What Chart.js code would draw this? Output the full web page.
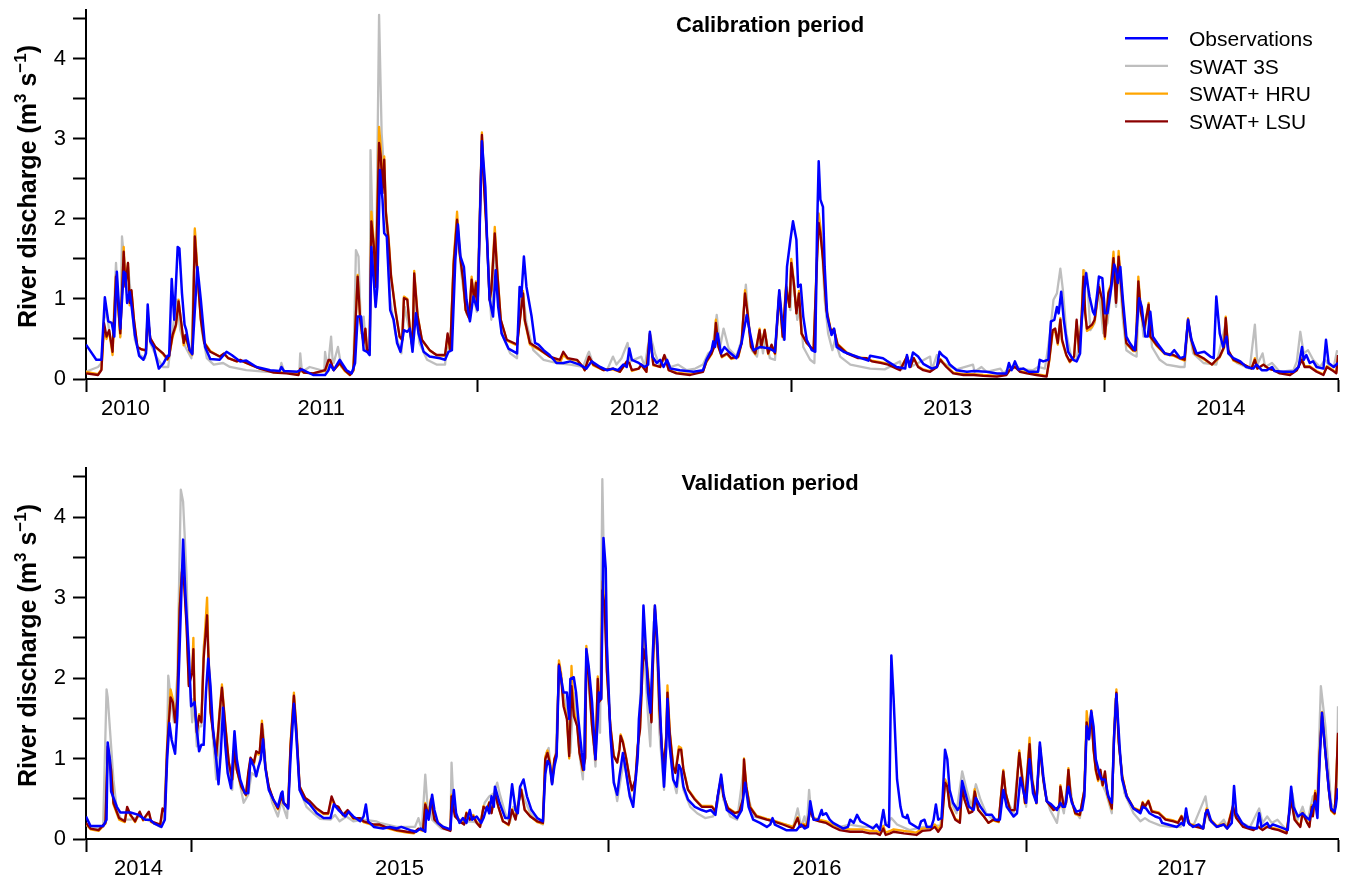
<!DOCTYPE html>
<html><head><meta charset="utf-8">
<script src="https://cdn.jsdelivr.net/npm/chart.js@4.4.1/dist/chart.umd.min.js"></script>
<style>
html,body{margin:0;padding:0;background:#fff;}
#wrap{position:relative;width:1346px;height:883px;overflow:hidden;}
canvas{position:absolute;left:0;}
</style></head><body>
<div id="wrap"><canvas id="cal" width="1346" height="441" style="top:0"></canvas><canvas id="val" width="1346" height="442" style="top:441px"></canvas></div>
<script>
// ---- tick labels / categories ----
const seriesNames = ['Observations','SWAT 3S','SWAT+ HRU','SWAT+ LSU'];
const calYears = ['2010','2011','2012','2013','2014'];
const calBounds = [0,92,457,823,1188,1461];   // day index of 1 Oct 2010, 1 Jan 2011 ... 30 Sep 2014
const valYears = ['2014','2015','2016','2017'];
const valBounds = [0,92,457,823,1096];        // day index of 1 Oct 2014, 1 Jan 2015 ... 30 Sep 2017
const yTickValues = [0,0.5,1,1.5,2,2.5,3,3.5,4,4.5];
const calTitle = 'Calibration period';
const valTitle = 'Validation period';

// ---- calibration period: [day, discharge m3/s] ----
const calObs = [[0,0.43],[12,0.24],[18,0.24],[22,1.02],[26,0.72],[30,0.70],[33,0.53],[36,1.34],[40,0.63],[44,1.34],[46,1.32],[48,0.95],[51,1.09],[53,0.93],[57,0.55],[62,0.29],[67,0.24],[70,0.32],[72,0.93],[75,0.47],[79,0.40],[85,0.13],[90,0.19],[95,0.29],[97,0.29],[100,1.25],[103,0.74],[107,1.65],[109,1.63],[112,1.07],[115,0.68],[117,0.61],[121,0.36],[124,0.31],[130,1.40],[134,0.99],[139,0.40],[145,0.25],[156,0.24],[164,0.34],[170,0.30],[180,0.22],[187,0.23],[199,0.15],[215,0.11],[226,0.10],[228,0.15],[231,0.10],[246,0.09],[252,0.12],[265,0.05],[279,0.05],[283,0.11],[285,0.18],[289,0.11],[296,0.24],[304,0.11],[310,0.07],[314,0.20],[317,0.78],[321,0.78],[324,0.36],[328,0.34],[331,0.30],[333,1.65],[336,1.20],[338,0.90],[340,1.15],[343,2.61],[346,2.24],[348,1.82],[351,1.78],[355,0.86],[359,0.74],[363,0.45],[367,0.34],[371,0.61],[375,0.59],[378,0.63],[381,0.34],[385,0.82],[388,0.57],[394,0.34],[401,0.28],[413,0.26],[419,0.24],[423,0.34],[427,0.36],[431,1.49],[434,1.93],[437,1.53],[441,1.40],[444,0.99],[448,0.72],[452,1.03],[457,0.86],[462,2.97],[466,2.40],[468,1.74],[471,0.99],[475,0.78],[478,1.36],[481,0.90],[485,0.57],[493,0.38],[503,0.32],[506,1.15],[508,1.03],[511,1.53],[514,1.15],[520,0.78],[524,0.45],[528,0.43],[534,0.36],[541,0.30],[549,0.20],[557,0.20],[565,0.22],[576,0.18],[584,0.13],[590,0.22],[600,0.15],[608,0.11],[615,0.13],[621,0.11],[627,0.18],[631,0.15],[634,0.38],[637,0.24],[645,0.20],[652,0.15],[656,0.18],[658,0.59],[661,0.28],[666,0.20],[670,0.24],[674,0.15],[678,0.24],[682,0.13],[693,0.11],[709,0.09],[720,0.11],[724,0.24],[730,0.36],[732,0.47],[734,0.40],[737,0.57],[741,0.32],[745,0.40],[750,0.34],[759,0.26],[765,0.45],[771,0.80],[775,0.57],[779,0.36],[787,0.40],[798,0.38],[804,0.34],[809,1.11],[812,0.76],[815,0.49],[818,1.40],[822,1.74],[825,1.97],[829,1.74],[831,1.15],[834,1.18],[837,0.78],[841,0.49],[847,0.36],[851,0.34],[853,1.82],[855,2.72],[857,2.24],[860,2.15],[862,1.40],[865,0.78],[870,0.55],[873,0.63],[876,0.40],[884,0.34],[894,0.30],[913,0.23],[915,0.29],[930,0.26],[934,0.23],[946,0.15],[956,0.13],[958,0.30],[961,0.15],[965,0.33],[971,0.28],[977,0.19],[987,0.13],[993,0.15],[996,0.34],[999,0.30],[1004,0.26],[1008,0.18],[1016,0.11],[1028,0.09],[1036,0.10],[1051,0.09],[1063,0.07],[1074,0.07],[1077,0.20],[1080,0.11],[1084,0.22],[1088,0.12],[1094,0.13],[1100,0.09],[1111,0.09],[1113,0.24],[1117,0.22],[1123,0.24],[1126,0.72],[1130,0.74],[1133,0.90],[1135,0.82],[1138,1.09],[1141,0.74],[1146,0.34],[1152,0.24],[1156,0.22],[1160,0.32],[1162,0.74],[1167,1.32],[1171,1.03],[1175,0.84],[1177,0.80],[1180,1.07],[1182,1.28],[1186,1.26],[1189,0.82],[1192,0.82],[1196,1.11],[1200,1.43],[1202,1.36],[1204,1.20],[1207,1.40],[1210,0.99],[1214,0.53],[1218,0.45],[1224,0.36],[1229,1.01],[1232,0.90],[1236,0.53],[1239,0.53],[1242,0.84],[1245,0.53],[1250,0.45],[1259,0.32],[1265,0.30],[1270,0.36],[1277,0.26],[1282,0.28],[1286,0.74],[1290,0.49],[1296,0.32],[1305,0.34],[1312,0.28],[1316,0.26],[1319,1.03],[1323,0.57],[1327,0.40],[1331,0.53],[1333,0.32],[1339,0.26],[1347,0.22],[1354,0.15],[1362,0.13],[1366,0.18],[1372,0.11],[1378,0.11],[1384,0.15],[1387,0.10],[1397,0.09],[1409,0.09],[1415,0.15],[1419,0.40],[1421,0.24],[1424,0.30],[1428,0.20],[1432,0.22],[1436,0.15],[1444,0.13],[1447,0.49],[1450,0.20],[1456,0.15],[1461,0.20]];

const calSw3 = [[0,0.09],[14,0.15],[18,0.20],[21,0.74],[24,0.84],[28,0.53],[31,0.40],[35,1.45],[40,0.53],[42,1.78],[46,1.32],[49,1.40],[53,0.99],[57,0.49],[63,0.30],[69,0.26],[72,0.86],[75,0.45],[82,0.28],[90,0.15],[96,0.15],[100,0.53],[106,0.99],[110,0.61],[116,0.40],[123,0.26],[127,1.86],[131,1.15],[135,0.61],[141,0.26],[149,0.18],[160,0.20],[168,0.15],[187,0.11],[211,0.09],[226,0.09],[228,0.20],[231,0.10],[249,0.09],[250,0.32],[252,0.09],[261,0.15],[278,0.10],[279,0.34],[282,0.11],[286,0.53],[288,0.20],[289,0.20],[294,0.40],[298,0.15],[308,0.05],[312,0.11],[315,1.61],[318,1.53],[321,0.57],[324,0.78],[327,0.36],[331,0.30],[332,2.86],[335,1.65],[338,0.90],[342,4.55],[345,3.07],[348,2.57],[351,1.82],[355,0.99],[361,0.57],[368,0.32],[372,0.90],[378,0.57],[381,0.38],[384,0.99],[389,0.45],[398,0.24],[409,0.18],[419,0.18],[421,0.40],[425,0.36],[429,1.49],[433,1.99],[438,1.32],[444,0.82],[448,0.74],[451,1.11],[456,0.84],[462,3.03],[466,2.24],[470,1.20],[473,0.74],[477,1.74],[481,0.99],[485,0.57],[495,0.32],[503,0.26],[506,0.99],[510,1.07],[514,0.70],[522,0.36],[534,0.24],[549,0.20],[565,0.18],[580,0.15],[586,0.32],[587,0.34],[592,0.18],[608,0.11],[615,0.28],[619,0.18],[625,0.26],[632,0.45],[635,0.22],[648,0.28],[652,0.15],[658,0.57],[664,0.32],[670,0.15],[676,0.28],[682,0.15],[691,0.18],[701,0.11],[711,0.13],[720,0.18],[726,0.32],[731,0.36],[736,0.80],[740,0.40],[744,0.63],[750,0.38],[759,0.28],[765,0.49],[770,1.18],[773,0.74],[777,0.36],[783,0.28],[787,0.57],[790,0.32],[793,0.53],[798,0.26],[804,0.24],[809,1.03],[814,0.49],[818,1.15],[822,0.86],[824,1.40],[827,1.07],[830,0.74],[833,0.90],[837,0.40],[845,0.24],[850,0.20],[853,1.40],[855,1.95],[859,1.61],[862,0.99],[866,0.57],[871,0.36],[874,0.49],[880,0.28],[892,0.18],[915,0.13],[932,0.12],[950,0.22],[952,0.12],[958,0.26],[962,0.15],[971,0.20],[985,0.28],[987,0.11],[993,0.30],[997,0.22],[1004,0.18],[1016,0.12],[1035,0.18],[1037,0.09],[1045,0.15],[1051,0.09],[1067,0.13],[1071,0.07],[1078,0.15],[1086,0.16],[1092,0.12],[1105,0.11],[1111,0.15],[1119,0.13],[1125,0.57],[1129,0.99],[1133,1.07],[1137,1.38],[1140,1.11],[1144,0.57],[1150,0.26],[1156,0.24],[1161,0.61],[1164,1.36],[1168,1.32],[1171,0.78],[1172,0.61],[1177,0.70],[1182,1.11],[1187,0.57],[1192,0.70],[1196,1.11],[1199,1.45],[1202,0.90],[1205,1.45],[1210,0.74],[1214,0.36],[1222,0.30],[1226,0.28],[1229,1.11],[1234,0.53],[1240,0.86],[1244,0.40],[1253,0.24],[1261,0.18],[1277,0.15],[1282,0.15],[1286,0.68],[1292,0.32],[1304,0.20],[1319,0.18],[1330,0.70],[1333,0.32],[1343,0.20],[1358,0.13],[1364,0.68],[1367,0.18],[1373,0.32],[1376,0.15],[1384,0.20],[1393,0.09],[1409,0.11],[1413,0.22],[1417,0.59],[1421,0.32],[1426,0.36],[1432,0.24],[1440,0.15],[1446,0.24],[1450,0.18],[1456,0.15],[1460,0.36]];

const calHru = [[0,0.09],[14,0.06],[18,0.12],[21,0.62],[24,0.50],[27,0.60],[31,0.30],[35,1.30],[40,0.52],[44,1.65],[46,1.18],[49,1.45],[51,0.92],[53,1.10],[56,0.72],[60,0.40],[65,0.37],[70,0.35],[72,0.80],[75,0.50],[81,0.40],[90,0.31],[95,0.24],[97,0.28],[101,0.52],[105,0.66],[108,0.99],[111,0.70],[114,0.42],[116,0.53],[121,0.34],[124,0.30],[127,1.88],[130,1.36],[134,0.76],[138,0.46],[145,0.35],[156,0.28],[161,0.31],[166,0.26],[176,0.22],[180,0.23],[187,0.20],[203,0.13],[219,0.09],[234,0.08],[248,0.06],[250,0.12],[254,0.08],[265,0.07],[279,0.10],[283,0.22],[285,0.23],[289,0.11],[296,0.19],[302,0.10],[308,0.05],[312,0.10],[317,1.30],[320,0.72],[324,0.43],[326,0.62],[328,0.34],[331,0.35],[333,2.09],[336,1.70],[338,1.18],[342,3.15],[344,2.90],[346,2.40],[348,2.78],[350,2.10],[353,1.78],[356,1.30],[361,0.88],[366,0.52],[369,0.48],[371,1.03],[375,1.00],[378,0.60],[381,0.40],[383,1.35],[387,0.80],[392,0.48],[401,0.36],[409,0.30],[419,0.29],[422,0.55],[425,0.35],[429,1.47],[433,2.09],[436,1.60],[440,1.26],[443,0.86],[447,0.76],[450,1.28],[453,1.00],[455,1.22],[457,0.88],[462,3.08],[464,2.55],[468,1.76],[471,0.98],[473,1.12],[477,1.90],[480,1.35],[484,0.74],[491,0.48],[503,0.42],[506,0.72],[510,1.10],[512,0.72],[518,0.43],[528,0.37],[541,0.28],[553,0.20],[557,0.30],[562,0.25],[573,0.23],[580,0.15],[582,0.11],[587,0.27],[592,0.17],[604,0.11],[615,0.12],[623,0.09],[631,0.21],[634,0.20],[637,0.10],[645,0.13],[648,0.17],[654,0.09],[658,0.55],[662,0.17],[670,0.15],[675,0.29],[680,0.11],[689,0.08],[705,0.06],[720,0.10],[724,0.21],[730,0.31],[733,0.42],[735,0.74],[738,0.40],[742,0.27],[748,0.31],[753,0.25],[761,0.27],[765,0.44],[769,1.11],[772,0.84],[776,0.40],[781,0.31],[786,0.63],[788,0.39],[792,0.62],[796,0.31],[800,0.42],[804,0.31],[809,1.09],[813,0.52],[817,1.18],[821,0.90],[823,1.50],[826,1.22],[829,0.82],[832,1.10],[835,0.56],[841,0.45],[849,0.36],[853,1.55],[855,2.07],[857,1.90],[860,1.52],[864,0.88],[869,0.62],[873,0.62],[877,0.44],[888,0.33],[901,0.27],[911,0.26],[917,0.23],[927,0.21],[936,0.19],[946,0.14],[950,0.12],[958,0.28],[962,0.16],[966,0.26],[971,0.16],[977,0.12],[985,0.10],[993,0.16],[997,0.25],[1000,0.21],[1004,0.16],[1012,0.08],[1024,0.06],[1036,0.06],[1047,0.05],[1063,0.04],[1074,0.06],[1078,0.12],[1084,0.16],[1090,0.10],[1098,0.08],[1109,0.06],[1121,0.04],[1124,0.22],[1128,0.58],[1131,0.60],[1134,0.43],[1137,0.76],[1139,0.47],[1144,0.29],[1148,0.21],[1153,0.27],[1156,0.72],[1159,0.33],[1162,0.82],[1164,1.36],[1166,0.84],[1168,0.60],[1174,0.65],[1177,0.72],[1182,1.18],[1186,0.97],[1189,0.50],[1193,1.09],[1196,1.18],[1199,1.59],[1202,0.97],[1205,1.60],[1207,1.30],[1211,0.78],[1214,0.44],[1222,0.35],[1225,0.35],[1228,1.28],[1231,0.85],[1235,0.62],[1240,0.95],[1242,0.52],[1249,0.42],[1259,0.31],[1269,0.29],[1277,0.25],[1282,0.23],[1286,0.76],[1289,0.52],[1294,0.31],[1304,0.25],[1314,0.18],[1319,0.23],[1323,0.27],[1328,0.39],[1330,0.78],[1333,0.35],[1339,0.23],[1351,0.18],[1360,0.13],[1364,0.26],[1367,0.13],[1374,0.18],[1380,0.13],[1386,0.11],[1393,0.08],[1405,0.06],[1413,0.12],[1419,0.26],[1422,0.16],[1428,0.16],[1436,0.10],[1444,0.06],[1448,0.16],[1454,0.12],[1459,0.08],[1461,0.28]];

const calLsu = [[0,0.07],[14,0.05],[18,0.11],[21,0.70],[24,0.53],[27,0.61],[31,0.34],[35,1.28],[40,0.57],[44,1.59],[46,1.15],[49,1.45],[51,0.95],[53,1.11],[56,0.74],[60,0.40],[65,0.37],[70,0.36],[72,0.78],[75,0.51],[81,0.40],[90,0.32],[95,0.25],[97,0.29],[101,0.55],[105,0.68],[108,0.97],[111,0.72],[114,0.45],[116,0.55],[121,0.36],[124,0.32],[127,1.78],[130,1.32],[134,0.74],[138,0.45],[145,0.34],[156,0.28],[161,0.32],[166,0.26],[176,0.22],[180,0.24],[187,0.20],[203,0.13],[219,0.08],[234,0.07],[248,0.05],[250,0.13],[254,0.08],[265,0.07],[279,0.11],[283,0.24],[285,0.24],[289,0.11],[296,0.20],[302,0.11],[308,0.05],[312,0.11],[317,1.28],[320,0.74],[324,0.45],[326,0.63],[328,0.36],[331,0.36],[333,1.97],[336,1.65],[338,1.15],[342,2.95],[344,2.78],[346,2.32],[348,2.74],[350,2.07],[353,1.74],[356,1.28],[361,0.86],[366,0.53],[369,0.49],[371,1.01],[375,0.99],[378,0.61],[381,0.40],[383,1.32],[387,0.78],[392,0.49],[401,0.36],[409,0.30],[419,0.30],[422,0.57],[425,0.36],[429,1.43],[433,1.99],[436,1.57],[440,1.24],[443,0.86],[447,0.76],[450,1.24],[453,0.99],[455,1.20],[457,0.88],[462,3.05],[464,2.49],[468,1.74],[471,0.99],[473,1.11],[477,1.82],[480,1.32],[484,0.74],[491,0.49],[503,0.43],[506,0.70],[510,1.07],[512,0.74],[518,0.45],[528,0.38],[541,0.28],[553,0.24],[557,0.34],[562,0.26],[573,0.24],[580,0.15],[582,0.11],[587,0.28],[592,0.18],[604,0.11],[615,0.13],[623,0.09],[631,0.22],[634,0.20],[637,0.11],[645,0.13],[648,0.18],[654,0.09],[658,0.57],[662,0.18],[670,0.15],[675,0.30],[680,0.11],[689,0.07],[705,0.05],[720,0.09],[724,0.22],[730,0.32],[733,0.40],[735,0.70],[738,0.40],[742,0.28],[748,0.32],[753,0.26],[761,0.28],[765,0.45],[769,1.07],[772,0.82],[776,0.40],[781,0.32],[786,0.61],[788,0.40],[792,0.61],[796,0.32],[800,0.43],[804,0.32],[809,1.07],[813,0.53],[817,1.15],[821,0.90],[823,1.45],[826,1.20],[829,0.82],[832,1.07],[835,0.57],[841,0.45],[849,0.36],[853,1.49],[855,1.95],[857,1.82],[860,1.49],[864,0.86],[869,0.61],[873,0.61],[877,0.43],[888,0.32],[901,0.26],[911,0.26],[917,0.22],[927,0.20],[936,0.18],[946,0.13],[950,0.11],[958,0.28],[962,0.15],[966,0.26],[971,0.15],[977,0.11],[985,0.09],[993,0.15],[997,0.24],[1000,0.20],[1004,0.15],[1012,0.07],[1024,0.05],[1036,0.05],[1047,0.04],[1063,0.03],[1074,0.05],[1078,0.11],[1084,0.15],[1090,0.09],[1098,0.07],[1109,0.05],[1121,0.03],[1124,0.24],[1128,0.61],[1131,0.63],[1134,0.45],[1137,0.74],[1139,0.49],[1144,0.30],[1148,0.22],[1153,0.28],[1156,0.74],[1159,0.34],[1162,0.80],[1164,1.28],[1166,0.82],[1168,0.63],[1174,0.68],[1177,0.74],[1182,1.15],[1186,0.99],[1189,0.53],[1193,1.07],[1196,1.15],[1199,1.51],[1202,0.95],[1205,1.53],[1207,1.28],[1211,0.78],[1214,0.45],[1222,0.36],[1225,0.36],[1228,1.22],[1231,0.84],[1235,0.63],[1240,0.93],[1242,0.53],[1249,0.43],[1259,0.32],[1269,0.30],[1277,0.26],[1282,0.24],[1286,0.74],[1289,0.53],[1294,0.32],[1304,0.26],[1314,0.18],[1319,0.24],[1323,0.28],[1328,0.40],[1330,0.76],[1333,0.36],[1339,0.24],[1351,0.18],[1360,0.13],[1364,0.24],[1367,0.13],[1374,0.18],[1380,0.13],[1386,0.11],[1393,0.07],[1405,0.05],[1413,0.11],[1419,0.24],[1422,0.15],[1428,0.15],[1436,0.09],[1444,0.05],[1448,0.15],[1454,0.11],[1459,0.07],[1461,0.30]];

// ---- validation period: [day, discharge m3/s] ----
const valObs = [[0,0.28],[4,0.16],[15,0.16],[18,0.24],[19,1.20],[21,0.98],[22,0.59],[27,0.40],[30,0.33],[39,0.33],[46,0.30],[52,0.24],[56,0.24],[60,0.19],[66,0.15],[69,0.24],[71,0.98],[73,1.44],[75,1.23],[78,1.06],[80,1.54],[82,2.39],[85,3.72],[87,3.05],[90,2.31],[92,1.65],[95,1.70],[97,1.36],[99,1.09],[101,1.17],[103,1.17],[105,1.82],[107,2.24],[109,1.90],[111,1.40],[114,0.99],[116,0.68],[118,1.07],[120,1.63],[122,1.15],[124,0.82],[127,0.63],[130,1.34],[132,0.99],[135,0.74],[139,0.57],[142,0.57],[144,0.99],[147,0.90],[149,0.78],[151,0.90],[153,0.99],[155,1.24],[157,0.88],[160,0.61],[164,0.49],[168,0.40],[171,0.57],[172,0.59],[173,0.45],[177,0.38],[179,0.99],[182,1.68],[184,1.32],[187,0.61],[191,0.49],[196,0.43],[202,0.32],[208,0.26],[214,0.26],[217,0.43],[221,0.36],[227,0.28],[230,0.34],[234,0.28],[240,0.22],[243,0.28],[245,0.43],[247,0.22],[252,0.15],[260,0.13],[266,0.15],[272,0.13],[276,0.15],[284,0.11],[289,0.09],[293,0.13],[297,0.09],[298,0.36],[300,0.24],[303,0.55],[305,0.36],[308,0.20],[313,0.15],[319,0.12],[320,0.32],[322,0.61],[324,0.32],[327,0.20],[330,0.26],[333,0.20],[336,0.36],[338,0.24],[342,0.28],[346,0.20],[348,0.26],[351,0.40],[353,0.32],[355,0.53],[357,0.40],[358,0.65],[362,0.45],[367,0.26],[370,0.26],[373,0.68],[376,0.36],[378,0.32],[380,0.65],[383,0.74],[386,0.53],[390,0.36],[395,0.26],[400,0.22],[402,0.80],[404,0.97],[406,0.92],[408,0.68],[410,0.90],[412,1.03],[414,2.15],[416,1.99],[418,1.82],[421,1.82],[423,1.49],[424,1.99],[427,2.01],[429,1.82],[431,1.49],[434,1.07],[436,0.86],[438,2.36],[440,2.15],[443,1.70],[446,0.99],[448,1.49],[449,1.82],[451,1.74],[453,3.74],[455,3.36],[456,2.40],[459,1.32],[462,0.70],[465,0.55],[467,0.78],[470,1.07],[472,0.90],[476,0.53],[479,0.40],[483,1.03],[484,1.49],[486,1.82],[488,2.90],[490,2.40],[492,1.82],[494,1.57],[496,2.24],[498,2.90],[500,2.49],[502,1.82],[504,1.11],[506,0.65],[508,1.15],[509,1.74],[511,1.15],[514,0.74],[517,0.65],[519,0.92],[521,0.86],[523,0.65],[527,0.49],[533,0.40],[539,0.36],[543,0.34],[547,0.36],[551,0.30],[553,0.53],[556,0.80],[558,0.57],[561,0.36],[565,0.32],[570,0.26],[574,0.36],[577,0.70],[580,0.40],[584,0.24],[590,0.20],[596,0.15],[599,0.18],[601,0.26],[603,0.18],[613,0.11],[622,0.11],[626,0.18],[629,0.13],[632,0.15],[634,0.47],[637,0.24],[641,0.24],[644,0.36],[645,0.30],[648,0.32],[651,0.24],[654,0.20],[663,0.13],[667,0.15],[669,0.24],[672,0.20],[675,0.30],[678,0.22],[683,0.18],[689,0.13],[692,0.18],[695,0.11],[698,0.36],[700,0.18],[703,0.15],[705,2.28],[707,1.74],[710,0.74],[713,0.40],[715,0.28],[718,0.26],[719,0.30],[721,0.20],[729,0.13],[731,0.22],[734,0.24],[736,0.15],[740,0.15],[742,0.24],[744,0.43],[746,0.24],[749,0.26],[752,1.11],[754,0.99],[756,0.61],[759,0.45],[763,0.36],[765,0.40],[767,0.72],[769,0.61],[773,0.40],[777,0.36],[779,0.51],[783,0.40],[788,0.30],[793,0.30],[796,0.24],[800,0.24],[803,0.61],[806,0.40],[812,0.28],[815,0.32],[818,0.76],[821,0.57],[823,0.45],[826,0.99],[829,0.57],[832,0.45],[835,1.20],[838,0.78],[841,0.47],[845,0.43],[850,0.36],[853,0.45],[855,0.40],[857,0.40],[860,0.65],[863,0.45],[867,0.34],[872,0.36],[874,0.53],[876,1.40],[878,1.24],[880,1.59],[882,1.40],[884,0.99],[887,0.82],[889,0.74],[892,0.74],[895,0.53],[898,0.45],[900,1.28],[902,1.80],[905,1.11],[907,0.74],[911,0.53],[917,0.38],[923,0.32],[925,0.40],[928,0.38],[931,0.32],[936,0.28],[940,0.26],[942,0.20],[947,0.18],[955,0.15],[959,0.20],[961,0.17],[963,0.38],[965,0.20],[969,0.15],[974,0.18],[978,0.13],[980,0.32],[982,0.36],[985,0.22],[990,0.15],[996,0.18],[999,0.13],[1003,0.20],[1005,0.66],[1007,0.32],[1012,0.20],[1017,0.15],[1025,0.13],[1027,0.32],[1029,0.15],[1034,0.20],[1036,0.15],[1039,0.18],[1045,0.15],[1052,0.11],[1055,0.65],[1057,0.40],[1061,0.28],[1065,0.32],[1069,0.26],[1071,0.24],[1074,0.40],[1076,0.47],[1078,0.26],[1080,0.99],[1082,1.57],[1085,1.07],[1088,0.61],[1090,0.38],[1093,0.34],[1094,0.40],[1096,0.63]];

const valSw3 = [[0,0.18],[4,0.13],[15,0.15],[18,1.86],[19,1.76],[22,1.15],[24,0.74],[27,0.36],[31,0.24],[39,0.24],[47,0.28],[56,0.22],[65,0.15],[68,0.22],[71,1.15],[72,2.03],[74,1.78],[77,1.45],[80,2.03],[83,4.34],[85,4.19],[88,3.28],[90,2.15],[93,1.45],[94,1.74],[95,1.61],[97,1.15],[99,1.40],[101,1.40],[103,2.40],[106,2.65],[108,2.07],[111,1.28],[114,0.74],[117,1.40],[119,1.86],[122,1.20],[126,0.78],[128,0.61],[130,1.07],[134,0.74],[138,0.45],[142,0.55],[145,0.82],[149,0.78],[152,0.95],[155,1.36],[158,0.78],[163,0.45],[168,0.28],[171,0.47],[176,0.26],[179,1.07],[182,1.78],[184,1.28],[187,0.61],[193,0.40],[199,0.32],[205,0.25],[214,0.24],[218,0.30],[222,0.22],[228,0.28],[234,0.22],[243,0.24],[254,0.22],[257,0.20],[272,0.15],[288,0.15],[291,0.26],[294,0.11],[297,0.80],[299,0.40],[301,0.40],[303,0.24],[311,0.13],[319,0.11],[320,0.95],[322,0.36],[327,0.20],[336,0.22],[345,0.20],[349,0.45],[353,0.53],[357,0.57],[360,0.70],[362,0.57],[367,0.32],[371,0.20],[374,0.40],[377,0.32],[380,0.65],[384,0.49],[389,0.32],[395,0.22],[400,0.18],[403,1.07],[405,1.13],[408,0.74],[411,0.99],[414,2.07],[418,1.82],[421,1.57],[424,1.07],[427,1.82],[430,1.49],[432,1.05],[435,0.74],[438,2.25],[440,1.90],[443,1.40],[446,0.90],[448,1.82],[450,1.32],[452,4.47],[453,3.70],[456,2.40],[459,1.32],[462,0.74],[465,0.47],[468,0.74],[471,0.99],[475,0.61],[479,0.45],[483,0.99],[486,2.07],[488,2.45],[492,1.53],[494,1.15],[497,2.70],[500,2.32],[502,1.32],[506,0.61],[509,1.70],[511,1.15],[514,0.74],[517,0.57],[520,0.90],[523,0.61],[529,0.40],[535,0.32],[542,0.26],[549,0.28],[553,0.45],[556,0.74],[558,0.49],[564,0.28],[570,0.24],[576,0.90],[579,0.57],[584,0.28],[596,0.24],[607,0.20],[619,0.15],[623,0.38],[626,0.15],[629,0.28],[631,0.15],[633,0.61],[635,0.28],[642,0.22],[654,0.18],[660,0.15],[669,0.18],[680,0.15],[695,0.15],[701,0.18],[705,0.26],[710,0.18],[721,0.11],[733,0.15],[748,0.17],[752,0.74],[756,0.49],[762,0.32],[767,0.84],[771,0.61],[775,0.40],[779,0.68],[783,0.49],[788,0.32],[794,0.24],[799,0.22],[803,0.82],[806,0.49],[812,0.32],[817,1.07],[821,0.65],[823,0.40],[826,1.15],[829,0.70],[832,0.45],[835,1.11],[839,0.61],[844,0.36],[850,0.20],[853,0.49],[856,0.32],[860,0.82],[864,0.40],[870,0.26],[874,0.57],[876,1.45],[880,1.53],[883,0.99],[889,0.70],[893,0.57],[898,0.32],[901,1.74],[902,1.74],[905,1.07],[909,0.57],[917,0.32],[923,0.22],[927,0.26],[931,0.22],[940,0.17],[949,0.15],[958,0.15],[963,0.24],[969,0.15],[980,0.53],[983,0.24],[990,0.15],[996,0.24],[999,0.15],[1004,0.32],[1009,0.22],[1019,0.15],[1027,0.38],[1030,0.20],[1034,0.28],[1038,0.20],[1043,0.24],[1051,0.11],[1056,0.57],[1060,0.22],[1065,0.40],[1069,0.20],[1074,0.53],[1078,0.57],[1081,1.90],[1085,1.40],[1088,0.82],[1090,0.45],[1093,0.36],[1095,0.57],[1096,1.65]];

const valHru = [[0,0.19],[4,0.12],[11,0.10],[17,0.19],[19,1.10],[22,0.84],[24,0.43],[29,0.24],[34,0.21],[36,0.38],[39,0.29],[43,0.21],[47,0.33],[50,0.23],[55,0.33],[57,0.21],[65,0.17],[67,0.36],[69,0.33],[71,1.15],[74,1.86],[76,1.74],[78,1.47],[80,1.78],[82,2.92],[84,3.36],[86,3.18],[88,2.70],[90,1.92],[93,2.12],[94,2.50],[95,1.78],[97,1.34],[99,1.55],[101,1.47],[103,2.30],[106,3.00],[107,2.40],[109,1.60],[112,1.26],[114,1.04],[117,1.60],[119,1.92],[122,1.42],[125,0.95],[128,0.74],[130,1.12],[132,0.86],[136,0.64],[140,0.54],[142,0.80],[144,0.99],[147,0.93],[149,1.07],[151,1.05],[152,1.06],[154,1.47],[157,0.90],[160,0.64],[164,0.48],[168,0.37],[171,0.52],[173,0.44],[177,0.39],[179,1.18],[182,1.82],[184,1.42],[187,0.66],[192,0.50],[196,0.46],[202,0.37],[208,0.31],[212,0.31],[215,0.50],[218,0.41],[221,0.39],[225,0.29],[229,0.35],[234,0.25],[240,0.25],[243,0.21],[252,0.17],[257,0.17],[262,0.14],[272,0.10],[281,0.08],[287,0.07],[291,0.12],[295,0.10],[297,0.45],[300,0.30],[302,0.50],[305,0.26],[313,0.14],[319,0.11],[320,0.55],[323,0.30],[327,0.24],[331,0.20],[333,0.33],[336,0.26],[339,0.30],[342,0.21],[345,0.16],[348,0.41],[351,0.37],[353,0.46],[355,0.33],[358,0.58],[361,0.40],[365,0.22],[370,0.17],[373,0.37],[376,0.25],[378,0.41],[381,0.62],[384,0.37],[389,0.28],[395,0.21],[400,0.19],[402,1.02],[404,1.10],[406,0.96],[408,0.70],[410,1.00],[412,1.09],[414,2.22],[416,2.05],[418,1.70],[421,1.50],[423,1.00],[425,2.15],[427,1.60],[430,1.42],[432,1.08],[435,0.85],[437,1.02],[438,2.40],[440,2.08],[443,1.42],[446,0.98],[448,2.02],[449,1.72],[451,1.76],[452,3.20],[454,2.95],[456,2.10],[459,1.42],[462,1.04],[465,0.95],[467,1.13],[468,1.30],[470,1.22],[473,1.00],[476,0.74],[478,0.60],[481,0.74],[483,1.17],[485,1.38],[486,1.74],[488,2.53],[491,2.20],[493,1.85],[495,1.47],[496,2.06],[498,2.90],[500,2.43],[502,1.63],[504,1.16],[506,0.90],[508,1.30],[509,1.91],[511,1.35],[514,0.91],[516,0.83],[519,1.15],[521,1.13],[523,0.87],[527,0.62],[533,0.50],[539,0.41],[543,0.41],[548,0.41],[551,0.35],[553,0.53],[556,0.77],[558,0.53],[562,0.39],[568,0.33],[572,0.34],[575,0.50],[576,1.00],[578,0.66],[581,0.41],[587,0.29],[596,0.25],[602,0.23],[610,0.19],[619,0.15],[623,0.27],[625,0.17],[628,0.19],[631,0.17],[634,0.38],[637,0.26],[642,0.24],[648,0.22],[654,0.18],[660,0.14],[669,0.12],[680,0.12],[686,0.10],[692,0.10],[695,0.08],[698,0.16],[700,0.08],[704,0.10],[707,0.12],[716,0.10],[727,0.08],[732,0.13],[739,0.14],[743,0.18],[746,0.12],[749,0.18],[752,0.74],[754,0.68],[756,0.42],[761,0.25],[765,0.22],[767,0.68],[769,0.50],[773,0.33],[776,0.35],[778,0.62],[781,0.37],[786,0.28],[790,0.20],[794,0.23],[799,0.21],[803,0.86],[805,0.58],[809,0.36],[813,0.36],[817,1.10],[819,0.84],[822,0.44],[826,1.26],[828,0.76],[832,0.44],[835,1.17],[838,0.75],[841,0.47],[847,0.36],[852,0.39],[853,0.67],[856,0.39],[858,0.45],[860,0.88],[862,0.53],[866,0.31],[870,0.29],[874,0.62],[876,1.59],[878,1.28],[880,1.60],[882,1.12],[884,0.84],[886,0.72],[888,0.84],[890,0.66],[892,0.82],[894,0.55],[898,0.37],[900,1.32],[902,1.86],[904,1.22],[907,0.79],[911,0.54],[917,0.39],[923,0.35],[925,0.46],[927,0.41],[930,0.48],[933,0.35],[939,0.33],[945,0.25],[952,0.23],[956,0.21],[959,0.29],[961,0.21],[963,0.33],[966,0.19],[972,0.16],[978,0.14],[981,0.38],[984,0.25],[990,0.16],[996,0.19],[999,0.14],[1004,0.42],[1007,0.27],[1013,0.16],[1022,0.12],[1026,0.16],[1030,0.12],[1034,0.16],[1038,0.14],[1044,0.12],[1051,0.08],[1055,0.52],[1058,0.25],[1063,0.16],[1065,0.33],[1069,0.21],[1071,0.16],[1073,0.42],[1074,0.29],[1076,0.60],[1078,0.41],[1080,1.10],[1082,1.58],[1085,1.08],[1088,0.60],[1090,0.35],[1093,0.31],[1094,0.58],[1096,1.30]];

const valLsu = [[0,0.20],[4,0.13],[11,0.11],[17,0.20],[19,1.15],[22,0.86],[24,0.45],[29,0.26],[34,0.22],[36,0.40],[39,0.30],[43,0.22],[47,0.34],[50,0.24],[55,0.34],[57,0.22],[65,0.18],[67,0.38],[69,0.34],[71,1.11],[74,1.76],[76,1.70],[78,1.45],[80,1.74],[82,2.86],[84,3.32],[86,3.15],[88,2.65],[90,1.90],[93,2.07],[94,2.36],[95,1.74],[97,1.32],[99,1.53],[101,1.45],[103,2.24],[106,2.78],[107,2.32],[109,1.57],[112,1.24],[114,1.03],[117,1.57],[119,1.88],[122,1.40],[125,0.95],[128,0.74],[130,1.11],[132,0.86],[136,0.65],[140,0.55],[142,0.82],[144,1.01],[147,0.95],[149,1.09],[151,1.07],[152,1.07],[154,1.43],[157,0.90],[160,0.65],[164,0.49],[168,0.38],[171,0.53],[173,0.45],[177,0.40],[179,1.15],[182,1.78],[184,1.40],[187,0.65],[192,0.51],[196,0.47],[202,0.38],[208,0.32],[212,0.32],[215,0.53],[218,0.42],[221,0.40],[225,0.30],[229,0.36],[234,0.26],[240,0.26],[243,0.22],[252,0.18],[257,0.18],[262,0.15],[272,0.11],[281,0.09],[287,0.08],[291,0.13],[295,0.11],[297,0.43],[300,0.28],[302,0.49],[305,0.24],[313,0.13],[319,0.10],[320,0.53],[323,0.28],[327,0.22],[331,0.18],[333,0.32],[336,0.24],[339,0.28],[342,0.20],[345,0.15],[348,0.40],[351,0.36],[353,0.45],[355,0.32],[358,0.57],[361,0.40],[365,0.22],[370,0.18],[373,0.36],[376,0.24],[378,0.40],[381,0.61],[384,0.36],[389,0.28],[395,0.22],[400,0.20],[402,0.99],[404,1.07],[406,0.94],[408,0.69],[410,0.99],[412,1.07],[414,2.17],[416,1.99],[418,1.65],[421,1.49],[423,1.03],[425,1.90],[427,1.53],[430,1.40],[432,1.07],[435,0.86],[437,1.00],[438,2.32],[440,2.03],[443,1.40],[446,0.99],[448,1.99],[449,1.70],[451,1.74],[452,3.09],[454,2.90],[456,2.07],[459,1.40],[462,1.03],[465,0.95],[467,1.11],[468,1.28],[470,1.20],[473,0.99],[476,0.74],[478,0.61],[481,0.74],[483,1.15],[485,1.36],[486,1.70],[488,2.36],[491,2.15],[493,1.82],[495,1.45],[496,2.03],[498,2.86],[500,2.40],[502,1.61],[504,1.15],[506,0.90],[508,1.28],[509,1.82],[511,1.32],[514,0.90],[516,0.82],[519,1.11],[521,1.11],[523,0.86],[527,0.61],[533,0.49],[539,0.40],[543,0.40],[548,0.40],[551,0.34],[553,0.53],[556,0.76],[558,0.53],[562,0.38],[568,0.32],[572,0.34],[575,0.49],[576,0.99],[578,0.65],[581,0.40],[587,0.28],[596,0.24],[602,0.22],[610,0.18],[619,0.13],[623,0.26],[625,0.15],[628,0.17],[631,0.15],[634,0.36],[637,0.24],[642,0.22],[648,0.20],[654,0.15],[660,0.11],[669,0.09],[680,0.09],[686,0.07],[692,0.07],[695,0.05],[698,0.13],[700,0.05],[704,0.07],[707,0.09],[716,0.07],[727,0.05],[732,0.10],[739,0.11],[743,0.15],[746,0.09],[749,0.15],[752,0.70],[754,0.65],[756,0.40],[761,0.24],[765,0.20],[767,0.65],[769,0.49],[773,0.32],[776,0.34],[778,0.59],[781,0.36],[786,0.28],[790,0.20],[794,0.24],[799,0.22],[803,0.84],[805,0.57],[809,0.36],[813,0.36],[817,1.07],[819,0.82],[822,0.45],[826,1.18],[828,0.74],[832,0.45],[835,1.15],[838,0.74],[841,0.47],[847,0.36],[852,0.40],[853,0.65],[856,0.40],[858,0.45],[860,0.86],[862,0.53],[866,0.32],[870,0.30],[874,0.61],[876,1.45],[878,1.24],[880,1.57],[882,1.11],[884,0.86],[886,0.74],[888,0.86],[890,0.67],[892,0.84],[894,0.57],[898,0.38],[900,1.28],[902,1.82],[904,1.20],[907,0.78],[911,0.53],[917,0.38],[923,0.34],[925,0.45],[927,0.40],[930,0.47],[933,0.34],[939,0.32],[945,0.24],[952,0.22],[956,0.20],[959,0.28],[961,0.20],[963,0.32],[966,0.18],[972,0.15],[978,0.13],[981,0.36],[984,0.24],[990,0.15],[996,0.18],[999,0.13],[1004,0.40],[1007,0.26],[1013,0.15],[1022,0.11],[1026,0.15],[1030,0.11],[1034,0.15],[1038,0.13],[1044,0.11],[1051,0.07],[1055,0.49],[1058,0.24],[1063,0.15],[1065,0.32],[1069,0.20],[1071,0.15],[1073,0.40],[1074,0.28],[1076,0.57],[1078,0.40],[1080,1.07],[1082,1.53],[1085,1.07],[1088,0.61],[1090,0.36],[1093,0.32],[1094,0.57],[1096,1.32]];

// ---- styling ----
const FONT = '"Liberation Sans", Arial, Helvetica, sans-serif';
const COLORS = ['#0000FF','#BEBEBE','#FFA500','#8B0000'];
const WIDTHS = [2.5,2.3,2.3,2.3];
const ORDERS = [0,3,2,1];

function toXY(a){ return a.map(p => ({x:p[0], y:p[1]})); }

function drawYTitle(ctx, bx, cy){
  const big = 'bold 25px ' + FONT, small = 'bold 17px ' + FONT;
  const segs = [['River discharge (m', big, 0], ['3', small, -10], [' s', big, 0], ['\u22121', small, -10], [')', big, 0]];
  let total = 0;
  segs.forEach(s => { ctx.font = s[1]; s.push(ctx.measureText(s[0]).width); total += s[3]; });
  ctx.save();
  ctx.translate(bx, cy);
  ctx.rotate(-Math.PI/2);
  ctx.fillStyle = '#000';
  ctx.textBaseline = 'alphabetic';
  ctx.textAlign = 'left';
  let x = -total/2;
  segs.forEach(s => { ctx.font = s[1]; ctx.fillText(s[0], x, s[2]); x += s[3]; });
  ctx.restore();
}

function decorPlugin(title, withLegend){
  return {
    id: 'decor',
    afterDraw(chart){
      const ctx = chart.ctx, ca = chart.chartArea;
      ctx.save();
      ctx.fillStyle = '#000';
      ctx.font = 'bold 22px ' + FONT;
      ctx.textAlign = 'center';
      ctx.textBaseline = 'alphabetic';
      ctx.fillText(title, 770, ca.top + 22);
      drawYTitle(ctx, 36, (ca.top + ca.bottom)/2 - 8);
      if (withLegend){
        const ys = [38.3, 65.8, 93.6, 121.4];
        seriesNames.forEach((name, i) => {
          ctx.strokeStyle = COLORS[i];
          ctx.lineWidth = WIDTHS[i];
          ctx.beginPath(); ctx.moveTo(1125, ys[i]); ctx.lineTo(1168, ys[i]); ctx.stroke();
          ctx.fillStyle = '#000';
          ctx.font = '21px ' + FONT;
          ctx.textAlign = 'left';
          ctx.fillText(name, 1189, ys[i] + 7.8);
        });
      }
      ctx.restore();
    }
  };
}

function buildChart(id, series, bounds, years, title, topPad, xHeight, withLegend){
  const mids = years.map((y,i) => (bounds[i] + bounds[i+1]) / 2);
  const labelAt = new Map(mids.map((m,i) => [m, years[i]]));
  const boundSet = new Set(bounds);
  const tickVals = bounds.concat(mids).sort((a,b) => a-b);
  const datasets = series.map((s,i) => ({
    label: seriesNames[i], data: toXY(s), borderColor: COLORS[i], borderWidth: WIDTHS[i],
    order: ORDERS[i], pointRadius: 0, borderJoinStyle: 'round', tension: 0, fill: false
  }));
  return new Chart(document.getElementById(id), {
    type: 'line',
    data: { datasets },
    options: {
      responsive: false, animation: false, events: [],
      layout: { padding: { top: topPad, right: 8, left: 0, bottom: 0 } },
      plugins: { legend: { display: false }, tooltip: { enabled: false }, title: { display: false } },
      scales: {
        x: {
          type: 'linear', min: bounds[0], max: bounds[bounds.length-1],
          afterBuildTicks: sc => { sc.ticks = tickVals.map(v => ({ value: v })); },
          afterFit: sc => { sc.height = xHeight; sc.paddingLeft = 0; sc.paddingRight = 0; sc.paddingTop = 0; sc.paddingBottom = 0; },
          grid: { display: true, drawOnChartArea: false, drawTicks: true, tickLength: 13, tickWidth: 2,
                  tickColor: c => (c.tick && boundSet.has(c.tick.value)) ? '#000' : 'rgba(0,0,0,0)' },
          border: { display: true, color: '#000', width: 2 },
          ticks: { autoSkip: false, maxRotation: 0, minRotation: 0, padding: 4, color: '#000',
                   font: { family: FONT, size: 22 },
                   callback: v => labelAt.has(v) ? labelAt.get(v) : '' }
        },
        y: {
          type: 'linear', min: 0, max: 4.61,
          afterBuildTicks: sc => { sc.ticks = yTickValues.map(v => ({ value: v })); },
          afterFit: sc => { sc.width = 86; sc.paddingTop = 0; sc.paddingBottom = 0; sc.paddingLeft = 0; sc.paddingRight = 0; },
          grid: { display: true, drawOnChartArea: false, drawTicks: true, tickLength: 13, tickWidth: 2, tickColor: '#000' },
          border: { display: true, color: '#000', width: 2 },
          ticks: { padding: 7, color: '#000', font: { family: FONT, size: 22 },
                   callback: v => Number.isInteger(v) ? String(v) : '' }
        }
      }
    },
    plugins: [decorPlugin(title, withLegend)]
  });
}

buildChart('cal', [calObs, calSw3, calHru, calLsu], calBounds, calYears, calTitle, 10, 62, true);
buildChart('val', [valObs, valSw3, valHru, valLsu], valBounds, valYears, valTitle, 27, 44, false);
</script>
</body></html>
